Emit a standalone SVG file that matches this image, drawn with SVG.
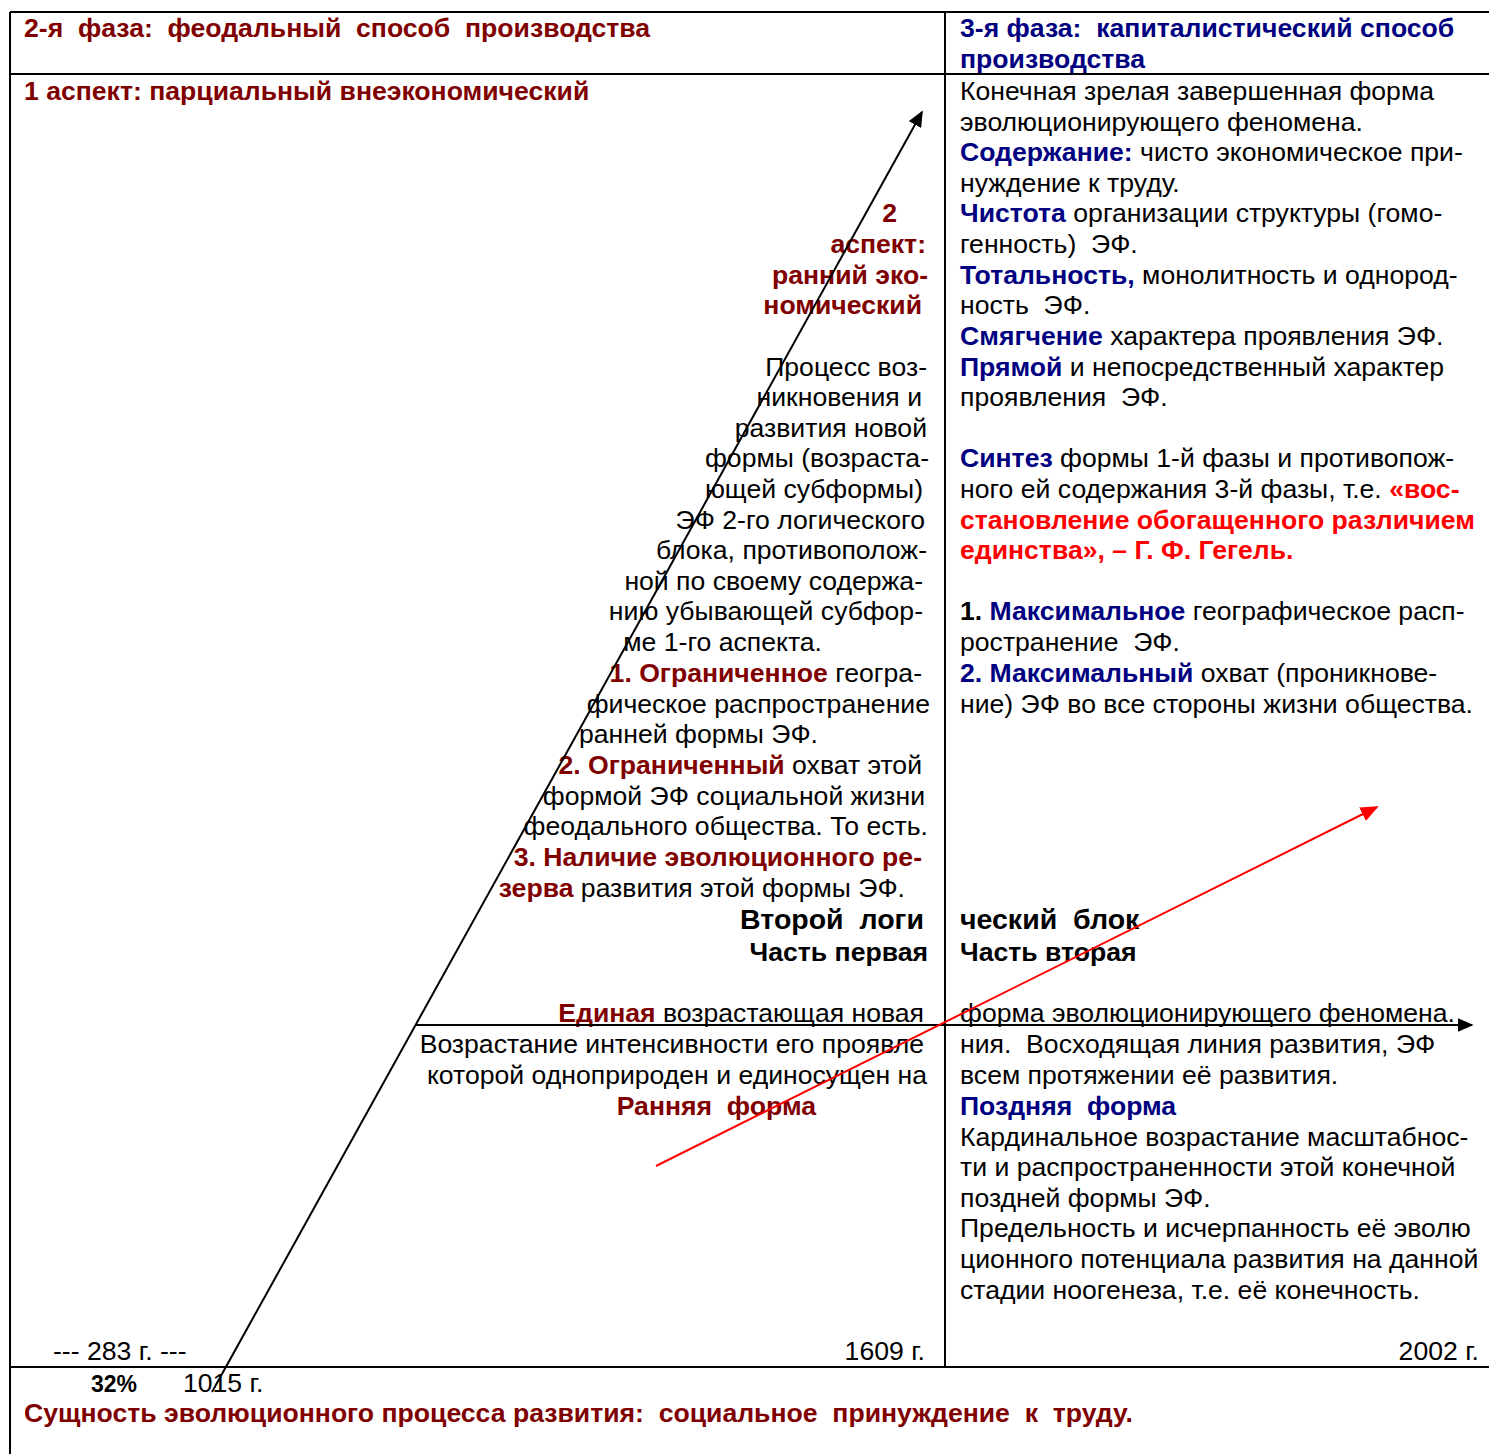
<svg xmlns="http://www.w3.org/2000/svg" width="1489" height="1454" viewBox="0 0 1489 1454" xml:space="preserve">
<style>
text{font-family:"Liberation Sans",Arial,sans-serif;font-size:26.6px;fill:#000;white-space:pre}
.b{font-weight:bold}
.dr{fill:#800000;font-weight:bold}
.nv{fill:#000080;font-weight:bold}
.rd{fill:#ff0000;font-weight:bold}
.e{text-anchor:end}
.frame{stroke:#000;stroke-width:2;fill:none}
</style>
<defs>
<marker id="ab" viewBox="0 0 10 10" refX="9" refY="5" markerWidth="16" markerHeight="14" markerUnits="userSpaceOnUse" orient="auto" preserveAspectRatio="none"><path d="M0,0L10,5L0,10z" fill="#000"/></marker>
<marker id="ar" viewBox="0 0 10 10" refX="9" refY="5" markerWidth="18" markerHeight="15" markerUnits="userSpaceOnUse" orient="auto" preserveAspectRatio="none"><path d="M0,0L10,5L0,10z" fill="#f00"/></marker>
</defs>
<rect width="1489" height="1454" fill="#fff"/>
<g id="table"><path class="frame" d="M10,12H1489M10,74H1489M10,1367H1489M10,12V1454M945,12V1367"/></g>
<g id="header-left"><text x="24" y="37" class="dr">2-я  фаза:  феодальный  способ  производства</text></g>
<g id="header-right"><text x="960" y="37" class="nv">3-я фаза:  капиталистический способ</text><text x="960" y="68" class="nv">производства</text></g>
<g id="aspect1"><text x="24" y="100" class="dr">1 аспект: парциальный внеэкономический</text></g>
<g id="left-col">
<text x="897" y="222" class="dr e">2</text>
<text x="926" y="253" class="dr e">аспект:</text>
<text x="928" y="284" class="dr e">ранний эко-</text>
<text x="922" y="314" class="dr e">номический</text>
<text x="927" y="376" class="e">Процесс воз-</text>
<text x="922" y="406" class="e">никновения и</text>
<text x="927" y="437" class="e">развития новой</text>
<text x="929" y="467" class="e">формы (возраста-</text>
<text x="923" y="498" class="e">ющей субформы)</text>
<text x="925" y="529" class="e">ЭФ 2-го логического</text>
<text x="927" y="559" class="e">блока, противополож-</text>
<text x="923" y="590" class="e">ной по своему содержа-</text>
<text x="923" y="620" class="e">нию убывающей субфор-</text>
<text x="822" y="651" class="e">ме 1-го аспекта.</text>
<text x="922" y="682" class="e"><tspan class="dr">1. Ограниченное</tspan> геогра-</text>
<text x="930" y="713" class="e">фическое распространение</text>
<text x="818" y="743" class="e">ранней формы ЭФ.</text>
<text x="922" y="774" class="e"><tspan class="dr">2. Ограниченный</tspan> охват этой</text>
<text x="925" y="805" class="e">формой ЭФ социальной жизни</text>
<text x="928" y="835" class="e">феодального общества. То есть.</text>
<text x="922" y="866" class="dr e">3. Наличие эволюционного ре-</text>
<text x="905" y="897" class="e"><tspan class="dr">зерва</tspan> развития этой формы ЭФ.</text>
<text x="924" y="929" class="b e" style="font-size:28.5px">Второй  логи</text>
<text x="928" y="961" class="b e">Часть первая</text>
<text x="924" y="1022" class="e"><tspan class="dr">Единая</tspan> возрастающая новая</text>
<text x="924" y="1053" class="e">Возрастание интенсивности его проявле</text>
<text x="927" y="1084" class="e">которой одноприроден и единосущен на</text>
<text x="816" y="1115" class="dr e">Ранняя  форма</text>
<text x="53" y="1360">--- 283 г. ---</text>
<text x="925" y="1360" class="e">1609 г.</text>
</g>
<g id="right-col">
<text x="960" y="100">Конечная зрелая завершенная форма</text>
<text x="960" y="131">эволюционирующего феномена.</text>
<text x="960" y="161"><tspan class="nv">Содержание:</tspan> чисто экономическое при-</text>
<text x="960" y="192">нуждение к труду.</text>
<text x="960" y="222"><tspan class="nv">Чистота</tspan> организации структуры (гомо-</text>
<text x="960" y="253">генность)  ЭФ.</text>
<text x="960" y="284"><tspan class="nv">Тотальность,</tspan> монолитность и однород-</text>
<text x="960" y="314">ность  ЭФ.</text>
<text x="960" y="345"><tspan class="nv">Смягчение</tspan> характера проявления ЭФ.</text>
<text x="960" y="376"><tspan class="nv">Прямой</tspan> и непосредственный характер</text>
<text x="960" y="406">проявления  ЭФ.</text>
<text x="960" y="467"><tspan class="nv">Синтез</tspan> формы 1-й фазы и противопож-</text>
<text x="960" y="498">ного ей содержания 3-й фазы, т.е. <tspan class="rd">«вос-</tspan></text>
<text x="960" y="529" class="rd">становление обогащенного различием</text>
<text x="960" y="559" class="rd">единства», – Г. Ф. Гегель.</text>
<text x="960" y="620"><tspan class="b">1. </tspan><tspan class="nv">Максимальное</tspan> географическое расп-</text>
<text x="960" y="651">ространение  ЭФ.</text>
<text x="960" y="682"><tspan class="nv">2. Максимальный</tspan> охват (проникнове-</text>
<text x="960" y="713">ние) ЭФ во все стороны жизни общества.</text>
<text x="960" y="929" class="b" style="font-size:28.5px">ческий  блок</text>
<text x="960" y="961" class="b">Часть вторая</text>
<text x="960" y="1022">форма эволюционирующего феномена.</text>
<text x="960" y="1053">ния.  Восходящая линия развития, ЭФ</text>
<text x="960" y="1084">всем протяжении её развития.</text>
<text x="960" y="1115" class="nv">Поздняя  форма</text>
<text x="960" y="1146">Кардинальное возрастание масштабнос-</text>
<text x="960" y="1176">ти и распространенности этой конечной</text>
<text x="960" y="1207">поздней формы ЭФ.</text>
<text x="960" y="1237">Предельность и исчерпанность её эволю</text>
<text x="960" y="1268">ционного потенциала развития на данной</text>
<text x="960" y="1299">стадии ноогенеза, т.е. её конечность.</text>
<text x="1479" y="1360" class="e">2002 г.</text>
</g>
<g id="bottom">
<text x="91" y="1392" class="b" style="font-size:23px">32%</text>
<text x="183" y="1392">1015 г.</text>
<text x="24" y="1422" class="dr">Сущность эволюционного процесса развития:  социальное  принуждение  к  труду.</text>
</g>
<g id="connectors" fill="none" stroke-width="2">
<line x1="212" y1="1392" x2="922" y2="112" stroke="#000" marker-end="url(#ab)"/>
<line x1="416" y1="1025" x2="1472" y2="1025" stroke="#000" marker-end="url(#ab)"/>
<line x1="656" y1="1166" x2="1377" y2="807" stroke="#f00" marker-end="url(#ar)"/>
</g>
</svg>
